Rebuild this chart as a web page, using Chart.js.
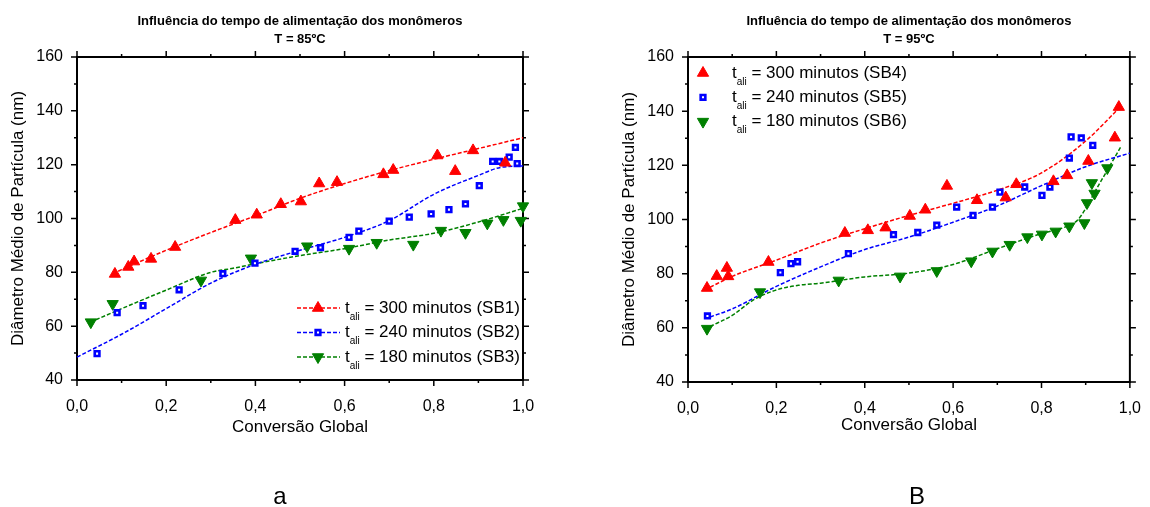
<!DOCTYPE html>
<html>
<head>
<meta charset="utf-8">
<script src="https://cdn.jsdelivr.net/npm/chart.js@4.4.1/dist/chart.umd.min.js"></script>
<style>
  body { margin: 0; background: #fff; }
  .panel { position: absolute; top: 0; width: 575px; height: 507px; }
</style>
</head>
<body>
<div class="panel" style="left:0"><canvas id="chart85" width="575" height="507"></canvas></div>
<div class="panel" style="left:575px"><canvas id="chart95" width="575" height="507"></canvas></div>
<script>
// T = 85ºC  -- conversão global x diâmetro (nm)
const conv85SB1 = [0.085, 0.115, 0.128, 0.166, 0.22, 0.355, 0.403, 0.457, 0.502, 0.543, 0.583, 0.687, 0.709, 0.808, 0.848, 0.888, 0.96];
const diam85SB1 = [79.4, 82, 84, 85, 89.4, 99.4, 101.4, 105.3, 106.3, 113, 113.5, 116.4, 118, 123.4, 117.6, 125.3, 120.7];
const conv85SB2 = [0.045, 0.09, 0.148, 0.229, 0.327, 0.399, 0.489, 0.546, 0.61, 0.632, 0.7, 0.745, 0.794, 0.834, 0.871, 0.902, 0.932, 0.947, 0.969, 0.983, 0.987];
const diam85SB2 = [49.8, 65, 67.6, 73.5, 79.5, 83.4, 87.8, 89.2, 93, 95.3, 99, 100.5, 101.7, 103.3, 105.4, 112.2, 121.2, 121.2, 122.8, 126.4, 120.4];
const conv85SB3 = [0.031, 0.08, 0.278, 0.39, 0.516, 0.61, 0.672, 0.754, 0.816, 0.871, 0.92, 0.956, 0.995, 1.0];
const diam85SB3 = [61.5, 68.3, 77, 85.2, 89.7, 88.8, 91, 90.3, 95.5, 94.7, 98.2, 99.5, 99.2, 104.6];

// curvas ajustadas (85ºC)
const fitConv85SB1 = [0.08, 0.1, 0.2, 0.3, 0.4, 0.5, 0.6, 0.7, 0.8, 0.9, 1.0];
const fitDiam85SB1 = [79.5, 81, 88.2, 94.8, 101, 107.5, 113, 117.8, 122, 126, 130];
const fitConv85SB2 = [0, 0.1, 0.2, 0.3, 0.4, 0.5, 0.6, 0.7, 0.8, 0.9, 0.95, 1.0];
const fitDiam85SB2 = [48.5, 57, 66.5, 76, 83, 88.2, 93, 99.2, 109, 116, 119, 119.5];
const fitConv85SB3 = [0.03, 0.1, 0.2, 0.3, 0.35, 0.4, 0.5, 0.6, 0.7, 0.8, 0.9, 1.0];
const fitDiam85SB3 = [61.5, 66.5, 73.4, 80, 81.5, 83.2, 86.2, 88.8, 92, 94.5, 98.7, 103.8];

// T = 95ºC
const conv95SB4 = [0.043, 0.065, 0.088, 0.091, 0.182, 0.355, 0.407, 0.447, 0.502, 0.537, 0.586, 0.654, 0.719, 0.743, 0.827, 0.858, 0.906, 0.966, 0.975];
const diam95SB4 = [74.7, 79.1, 82.1, 79, 84.3, 95, 96, 97, 101.3, 103.6, 112.4, 107.1, 108.1, 113, 114.1, 116.3, 121.6, 130.2, 141.5];
const conv95SB5 = [0.044, 0.209, 0.233, 0.248, 0.363, 0.465, 0.52, 0.563, 0.608, 0.645, 0.689, 0.706, 0.762, 0.801, 0.819, 0.863, 0.867, 0.89, 0.916];
const diam95SB5 = [64.4, 80.4, 83.7, 84.4, 87.4, 94.4, 95.2, 97.9, 104.6, 101.5, 104.6, 110.1, 112, 108.9, 112, 122.7, 130.5, 130.1, 127.4];
const conv95SB6 = [0.043, 0.163, 0.341, 0.48, 0.563, 0.641, 0.689, 0.728, 0.768, 0.801, 0.832, 0.863, 0.897, 0.903, 0.914, 0.92, 0.949];
const diam95SB6 = [59.7, 73.2, 77.5, 79, 81, 84.6, 88.2, 90.7, 93.5, 94.5, 95.6, 97.5, 98.7, 106.1, 113.5, 109.6, 119];

// curvas ajustadas (95ºC)
const fitConv95SB4 = [0.05, 0.1, 0.2, 0.3, 0.4, 0.5, 0.6, 0.7, 0.8, 0.9, 0.975];
const fitDiam95SB4 = [75, 79, 85, 91.3, 96.6, 101.5, 106, 110.8, 117.2, 129, 141];
const fitConv95SB5 = [0.05, 0.1, 0.2, 0.3, 0.4, 0.5, 0.6, 0.7, 0.8, 0.9, 1.0];
const fitDiam95SB5 = [64, 67, 75.3, 82.5, 88.9, 93.5, 99, 105, 112.5, 119.5, 124.5];
const fitConv95SB6 = [0.05, 0.1, 0.15, 0.2, 0.25, 0.3, 0.4, 0.5, 0.6, 0.7, 0.8, 0.85, 0.88, 0.9, 0.92, 0.95, 0.98];
const fitDiam95SB6 = [60.5, 64.6, 70.5, 74, 75.7, 76.5, 78.8, 80.2, 83.4, 89.2, 94.8, 97, 99.5, 104, 110, 118.5, 127];

const xMinorTicks = [0.1, 0.3, 0.5, 0.7, 0.9];
const yMinorTicks = [50, 70, 90, 110, 130, 150];

const RED = '#ff0000', BLUE = '#0000ff', GREEN = '#008000';
const FONT = "'Liberation Sans', Arial, sans-serif";
Chart.defaults.font.family = FONT;
Chart.defaults.color = '#000';

function pairs(xs, ys) {
    return xs.map((x, i) => ({x: x, y: ys[i]}));
}

function points(xs, ys, color, style) {
    const isRect = style === 'rect';
    return {
        data: pairs(xs, ys),
        showLine: false,
        pointStyle: isRect ? 'rect' : 'triangle',
        pointRotation: style === 'down' ? 180 : 0,
        pointRadius: isRect ? 3.3 : 6.5,
        borderWidth: isRect ? 2.6 : 1,
        backgroundColor: isRect ? '#fff' : color,
        borderColor: color,
        clip: false,
    };
}

function fitLine(xs, ys, color) {
    return {
        data: pairs(xs, ys),
        showLine: true,
        pointRadius: 0,
        borderColor: color,
        borderWidth: 1.5,
        borderDash: [4, 2],
        cubicInterpolationMode: 'monotone',
        clip: false,
    };
}

// moldura com marcas principais e secundárias nos quatro lados
const framePlugin = {
    id: 'frame',
    beforeDatasetsDraw(chart) {
        const {ctx, chartArea: a, scales: {x, y}} = chart;
        ctx.save();
        ctx.strokeStyle = '#000';
        ctx.lineWidth = 2;
        ctx.strokeRect(a.left, a.top, a.right - a.left, a.bottom - a.top);
        ctx.lineWidth = 1.5;
        ctx.beginPath();
        const yMarks = y.ticks.map(t => [t.value, 6]).concat(yMinorTicks.map(v => [v, 3]));
        yMarks.forEach(([v, len]) => {
            const py = y.getPixelForValue(v);
            ctx.moveTo(a.left - len, py); ctx.lineTo(a.left, py);
            ctx.moveTo(a.right, py); ctx.lineTo(a.right + len, py);
        });
        const xMarks = x.ticks.map(t => [t.value, 6]).concat(xMinorTicks.map(v => [v, 3]));
        xMarks.forEach(([v, len]) => {
            const px = x.getPixelForValue(v);
            ctx.moveTo(px, a.bottom); ctx.lineTo(px, a.bottom + len);
            ctx.moveTo(px, a.top - len); ctx.lineTo(px, a.top);
        });
        ctx.stroke();
        ctx.restore();
    }
};

function headerPlugin(temp, caption, captionX) {
    return {
        id: 'header',
        afterDraw(chart) {
            const {ctx, chartArea: a} = chart;
            const cx = (a.left + a.right) / 2;
            ctx.save();
            ctx.fillStyle = '#000';
            ctx.textAlign = 'center';
            ctx.textBaseline = 'middle';
            ctx.font = 'bold 13px ' + FONT;
            ctx.fillText('Influência do tempo de alimentação dos monômeros', cx, 21);
            ctx.fillText('T = ' + temp, cx, 39);
            ctx.font = '24px ' + FONT;
            ctx.textBaseline = 'alphabetic';
            ctx.fillText(caption, captionX, 504);
            ctx.restore();
        }
    };
}

// legenda com subscrito (t_ali)
function legendPlugin(items, cfg) {
    return {
        id: 'subLegend',
        afterDraw(chart) {
            const ctx = chart.ctx;
            ctx.save();
            items.forEach((item, i) => {
                const y = cfg.y + i * cfg.rowGap;
                if (cfg.line) {
                    ctx.strokeStyle = item.color;
                    ctx.lineWidth = 1.5;
                    ctx.setLineDash([4, 2]);
                    ctx.beginPath();
                    ctx.moveTo(cfg.lineFrom, y);
                    ctx.lineTo(cfg.lineTo, y);
                    ctx.stroke();
                    ctx.setLineDash([]);
                }
                const isRect = item.style === 'rect';
                ctx.fillStyle = isRect ? '#fff' : item.color;
                ctx.strokeStyle = item.color;
                ctx.lineWidth = isRect ? 2.6 : 1;
                Chart.helpers.drawPoint(ctx, {
                    pointStyle: isRect ? 'rect' : 'triangle',
                    rotation: item.style === 'down' ? 180 : 0,
                    radius: isRect ? 3.3 : 6.5,
                    borderWidth: isRect ? 2.6 : 1,
                }, cfg.markerX, y);

                ctx.fillStyle = '#000';
                ctx.textAlign = 'left';
                ctx.textBaseline = 'middle';
                ctx.font = '17px ' + FONT;
                let tx = cfg.textX;
                ctx.fillText('t', tx, y);
                tx += ctx.measureText('t').width;
                ctx.font = '10px ' + FONT;
                ctx.fillText('ali', tx, y + 9);
                tx += ctx.measureText('ali').width;
                ctx.font = '17px ' + FONT;
                ctx.fillText(' = ' + item.text, tx, y);
            });
            ctx.restore();
        }
    };
}

function chartOptions(pad, axisWidth, axisHeight) {
    return {
        responsive: false,
        animation: false,
        layout: {padding: pad},
        scales: {
            x: {
                type: 'linear',
                min: 0,
                max: 1,
                afterFit: (s) => { s.height = axisHeight; },
                grid: {display: false},
                border: {display: false},
                ticks: {
                    stepSize: 0.2,
                    padding: 9,
                    autoSkip: false,
                    maxRotation: 0,
                    font: {size: 16},
                    callback: (v) => v.toFixed(1).replace('.', ','),
                },
                title: {display: true, text: 'Conversão Global', font: {size: 17}, padding: 0},
            },
            y: {
                min: 40,
                max: 160,
                afterFit: (s) => { s.width = axisWidth; },
                grid: {display: false},
                border: {display: false},
                ticks: {stepSize: 20, padding: 6, autoSkip: false, font: {size: 16}},
                title: {display: true, text: 'Diâmetro Médio de Partícula (nm)', font: {size: 17}, padding: 0},
            },
        },
        plugins: {
            legend: {display: false},
            tooltip: {enabled: false},
        },
    };
}

new Chart(document.getElementById('chart85'), {
    type: 'scatter',
    data: {
        datasets: [
            points(conv85SB1, diam85SB1, RED, 'up'),
            points(conv85SB2, diam85SB2, BLUE, 'rect'),
            points(conv85SB3, diam85SB3, GREEN, 'down'),
            fitLine(fitConv85SB1, fitDiam85SB1, RED),
            fitLine(fitConv85SB2, fitDiam85SB2, BLUE),
            fitLine(fitConv85SB3, fitDiam85SB3, GREEN),
        ],
    },
    options: chartOptions({left: 8, right: 52, top: 57, bottom: 69}, 69, 58),
    plugins: [
        framePlugin,
        headerPlugin('85ºC', 'a', 280),
        legendPlugin([
            {text: '300 minutos (SB1)', color: RED, style: 'up'},
            {text: '240 minutos (SB2)', color: BLUE, style: 'rect'},
            {text: '180 minutos (SB3)', color: GREEN, style: 'down'},
        ], {line: true, lineFrom: 297, lineTo: 340, markerX: 318, textX: 345, y: 308, rowGap: 24.5}),
    ],
});

new Chart(document.getElementById('chart95'), {
    type: 'scatter',
    data: {
        datasets: [
            points(conv95SB4, diam95SB4, RED, 'up'),
            points(conv95SB5, diam95SB5, BLUE, 'rect'),
            points(conv95SB6, diam95SB6, GREEN, 'down'),
            fitLine(fitConv95SB4, fitDiam95SB4, RED),
            fitLine(fitConv95SB5, fitDiam95SB5, BLUE),
            fitLine(fitConv95SB6, fitDiam95SB6, GREEN),
        ],
    },
    options: chartOptions({left: 44, right: 13, top: 57, bottom: 71}, 69, 54),
    plugins: [
        framePlugin,
        headerPlugin('95ºC', 'B', 342),
        legendPlugin([
            {text: '300 minutos (SB4)', color: RED, style: 'up'},
            {text: '240 minutos (SB5)', color: BLUE, style: 'rect'},
            {text: '180 minutos (SB6)', color: GREEN, style: 'down'},
        ], {line: false, markerX: 128, textX: 157, y: 73, rowGap: 24.3}),
    ],
});
</script>
</body>
</html>
